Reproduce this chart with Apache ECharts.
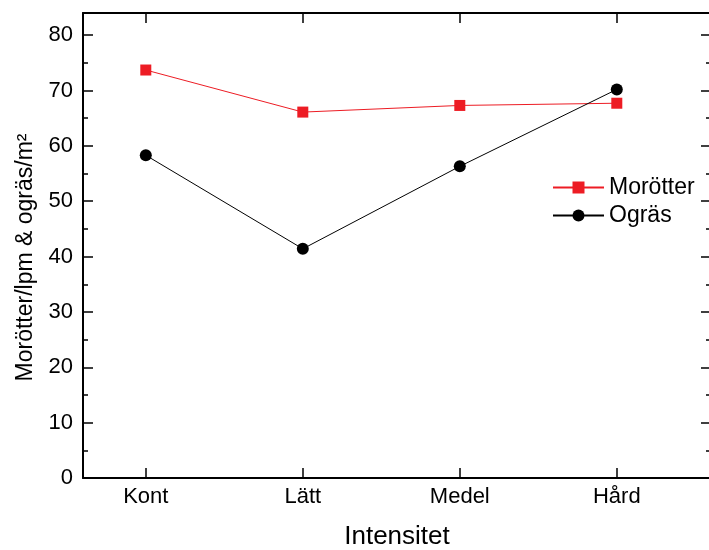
<!DOCTYPE html>
<html>
<head>
<meta charset="utf-8">
<script src="https://cdn.jsdelivr.net/npm/echarts@6/dist/echarts.min.js"></script>
<style>html,body{margin:0;padding:0;background:#fff}#c{width:709px;height:550px}</style>
</head>
<body>
<div id="c"></div>
<script>
const categories = ['Kont', 'Lätt', 'Medel', 'Hård'];
const morotter = [73.7, 66.1, 67.3, 67.7];
const ogras = [58.3, 41.4, 56.3, 70.2];
const yMajor = [0, 10, 20, 30, 40, 50, 60, 70, 80];
const yMinor = [5, 15, 25, 35, 45, 55, 65, 75];
const xTicks = [1, 2, 3, 4];

const FONT = '"Liberation Sans", Arial, sans-serif';
const chart = echarts.init(document.getElementById('c'));
const toPts = vals => vals.map((v, i) => [i + 1, v]);
const line = {show: true, onZero: false, lineStyle: {color: '#000', width: 2}};
const xBase = {type: 'value', min: 0.6, max: 4.6, splitLine: {show: false}};
const yBase = {type: 'value', min: 0, max: 84, splitLine: {show: false}};

chart.setOption({
  animation: false,
  backgroundColor: '#fff',
  grid: {left: 83, top: 13, right: -2, bottom: 72, containLabel: false, outerBoundsMode: 'none'},
  xAxis: [
    Object.assign({}, xBase, {
      position: 'bottom',
      axisLine: line,
      axisTick: {show: true, inside: true, length: 10, customValues: xTicks, lineStyle: {color: '#000', width: 1.5}},
      axisLabel: {show: true, customValues: xTicks, margin: 8, color: '#000', fontSize: 22, fontFamily: FONT,
        formatter: v => categories[Math.round(v) - 1] || ''},
      name: 'Intensitet', nameLocation: 'middle', nameGap: 46,
      nameTextStyle: {color: '#000', fontSize: 26, fontFamily: FONT}
    }),
    Object.assign({}, xBase, {
      position: 'top',
      axisLine: line,
      axisTick: {show: true, inside: true, length: 10, customValues: xTicks, lineStyle: {color: '#000', width: 1.5}},
      axisLabel: {show: false}
    })
  ],
  yAxis: [
    Object.assign({}, yBase, {
      position: 'left',
      axisLine: line,
      axisTick: {show: true, inside: true, length: 10, customValues: yMajor, lineStyle: {color: '#000', width: 1.5}},
      axisLabel: {show: true, customValues: yMajor, margin: 10, color: '#000', fontSize: 22, fontFamily: FONT},
      name: 'Morötter/lpm & ogräs/m²', nameLocation: 'middle', nameGap: 44,
      nameTextStyle: {color: '#000', fontSize: 23, fontFamily: FONT, padding: [0, 24, 0, 0]}
    }),
    Object.assign({}, yBase, {
      position: 'left',
      axisLine: {show: false},
      axisTick: {show: true, inside: true, length: 5, customValues: yMinor, lineStyle: {color: '#000', width: 1.5}},
      axisLabel: {show: false}
    }),
    Object.assign({}, yBase, {
      position: 'right',
      axisLine: line,
      axisTick: {show: true, inside: true, length: 10, customValues: yMajor, lineStyle: {color: '#000', width: 1.5}},
      axisLabel: {show: false}
    }),
    Object.assign({}, yBase, {
      position: 'right',
      axisLine: {show: false},
      axisTick: {show: true, inside: true, length: 5, customValues: yMinor, lineStyle: {color: '#000', width: 1.5}},
      axisLabel: {show: false}
    })
  ],
  legend: {
    left: 547, top: 171, orient: 'vertical', itemWidth: 51, itemHeight: 15, itemGap: 5,
    textStyle: {color: '#000', fontSize: 23, fontFamily: FONT},
    data: ['Morötter', 'Ogräs']
  },
  series: [
    {
      name: 'Morötter', type: 'line', data: toPts(morotter),
      symbol: 'rect', symbolSize: 11,
      itemStyle: {color: '#ED1C24'}, lineStyle: {color: '#ED1C24', width: 1}
    },
    {
      name: 'Ogräs', type: 'line', data: toPts(ogras),
      symbol: 'circle', symbolSize: 12,
      itemStyle: {color: '#000'}, lineStyle: {color: '#000', width: 1}
    }
  ]
});
</script>
</body>
</html>
